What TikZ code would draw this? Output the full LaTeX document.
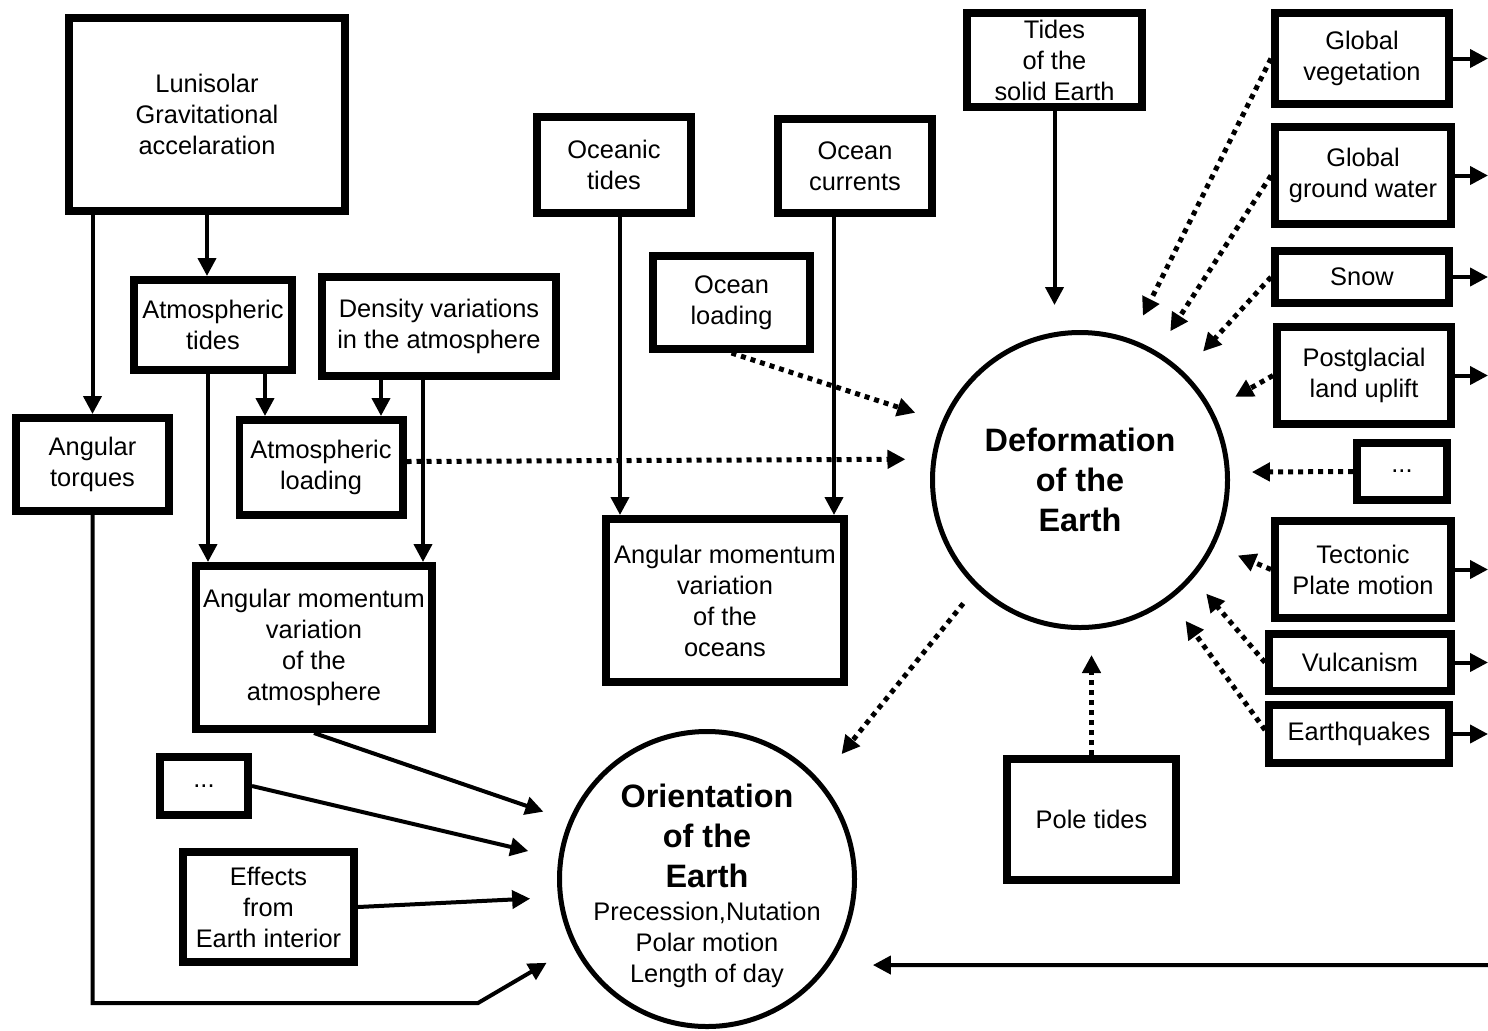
\documentclass[tikz,border=0pt]{standalone}
\usepackage{fontspec}
\setmainfont{Liberation Sans}
\usetikzlibrary{arrows.meta}

\newcommand{\circhead}[1]{{\bfseries\fontsize{16.2}{20}\selectfont #1}}

\begin{document}
\begin{tikzpicture}[x=0.5pt, y=-0.5pt, >={Triangle[length=9pt,width=9pt]},
    every node/.style={font=\fontsize{12.7}{15.5}\selectfont},
    box/.style={draw, line width=3.8pt, inner sep=0pt, align=center},
    circ/.style={draw, circle, line width=2.5pt, inner sep=0pt, minimum size=147.5pt, align=center},
    arr/.style={->, line width=2pt},
    dotarr/.style={->, line width=2.5pt, dash pattern=on 2.5pt off 2.5pt}]
    \useasboundingbox (0,0) rectangle (1488,1030);

    % Atmosphere side
    \node[box, minimum width=138.2pt, minimum height=96.7pt] (lun) at (207,114.5) {Lunisolar\\Gravitational\\accelaration};
    \node[box, minimum width=79.2pt, minimum height=45.2pt] (atide) at (213,325) {Atmospheric\\tides};
    \node[box, minimum width=117pt, minimum height=49.7pt] (dens) at (439,326.5) {Density variations\\in the atmosphere};
    \node[box, minimum width=76.7pt, minimum height=46.7pt] (torq) at (92.5,464.5) {Angular\\torques};
    \node[box, minimum width=81.7pt, minimum height=47.7pt] (aload) at (321,467.5) {Atmospheric\\loading};
    \node[box, minimum width=118.2pt, minimum height=81.7pt] (amvatm) at (314,647.5) {Angular momentum\\variation\\of the\\atmosphere};
    \node[box, minimum width=44.2pt, minimum height=29.2pt] (dotsl) at (204,786) {...};
    \node[box, minimum width=85.7pt, minimum height=55.2pt] (eff) at (268.5,907) {Effects\\from\\Earth interior};

    % Ocean side
    \node[box, minimum width=77.2pt, minimum height=48.2pt] (otide) at (614,165) {Oceanic\\tides};
    \node[box, minimum width=77.2pt, minimum height=47.2pt] (ocur) at (855,166) {Ocean\\currents};
    \node[box, minimum width=78.7pt, minimum height=46.7pt] (oload) at (731.5,302.5) {Ocean\\loading};
    \node[box, minimum width=119.2pt, minimum height=81.7pt] (amvoce) at (725,600.5) {Angular momentum\\variation\\of the\\oceans};

    % Solid Earth side
    \node[box, minimum width=87.7pt, minimum height=47.2pt] (tsolid) at (1054.5,60) {Tides\\of the\\solid Earth};
    \node[box, minimum width=87.2pt, minimum height=45.7pt] (veg) at (1362,58.5) {Global\\vegetation};
    \node[box, minimum width=88.2pt, minimum height=48.7pt] (gw) at (1363,175.5) {Global\\ground water};
    \node[box, minimum width=87.2pt, minimum height=26.2pt] (snow) at (1362,277) {Snow};
    \node[box, minimum width=87.2pt, minimum height=48.7pt] (postg) at (1364,375.5) {Postglacial\\land uplift};
    \node[box, minimum width=45.2pt, minimum height=28.7pt] (dotsr) at (1402,471.5) {...};
    \node[box, minimum width=88.2pt, minimum height=48.7pt] (tect) at (1363,569.5) {Tectonic\\Plate motion};
    \node[box, minimum width=91.2pt, minimum height=28.7pt] (vulc) at (1360,662.5) {Vulcanism};
    \node[box, minimum width=90.2pt, minimum height=29.2pt] (quake) at (1359,734) {Earthquakes};
    \node[box, minimum width=84.7pt, minimum height=60.7pt] (pole) at (1091.5,819.5) {Pole tides};

    % Circles
    \node[circ, font=\bfseries\fontsize{16.2}{20}\selectfont] (def) at (1080,480) {Deformation\\of the\\Earth};
    \node[circ] (orient) at (707,879) {};
    \node[align=center, inner sep=0pt] (orienttxt) at ([yshift=-3.5pt]orient.center) {\circhead{Orientation}\\[4.5pt]\circhead{of the}\\[4.5pt]\circhead{Earth}\\[1pt]Precession,Nutation\\Polar motion\\Length of day};

    % Atmosphere arrows
    \coordinate (atl) at ([xshift=26pt]atide.south);
    \coordinate (atm) at ([xshift=-2.5pt]atide.south);
    \coordinate (dnl) at ([xshift=-29pt]dens.south);
    \coordinate (dnm) at ([xshift=-8pt]dens.south);
    \draw[arr] (torq.north |- lun.south) -- (torq.north);
    \draw[arr] (lun.south) -- (lun.south |- atide.north);
    \draw[arr] (atl) -- (atl |- aload.north);
    \draw[arr] (atm) -- (atm |- amvatm.north);
    \draw[arr] (dnl) -- (dnl |- aload.north);
    \draw[arr] (dnm) -- (dnm |- amvatm.north);

    % Ocean arrows
    \coordinate (otd) at ([xshift=3pt]otide.south);
    \coordinate (ocd) at ([xshift=-10.5pt]ocur.south);
    \draw[arr] (otd) -- (otd |- amvoce.north);
    \draw[arr] (ocd) -- (ocd |- amvoce.north);

    % Into the orientation
    \coordinate (tbend) at (478,1003);
    \coordinate (inR) at (1488,965);
    \draw[arr, shorten >=13.5pt] (amvatm.south) -- (orient.157.8);
    \draw[arr, shorten >=15.5pt] (dotsl.east) -- (orient.172.4);
    \draw[arr, shorten >=14pt] (eff.east) -- (orient.-173.2);
    \draw[arr, shorten >=15.5pt] (torq.south) |- (tbend) -- (orient.-153.4);
    \draw[arr, shorten >=21.5pt] (inR) -- (orient.-35);

    % Tides of the solid Earth
    \draw[arr, shorten >=12.5pt] (tsolid.south) -- (tsolid.south |- def.north);

    % Outgoing on the right
    \coordinate (rim) at (1488,0);
    \draw[arr] (veg.east) -- (veg.east -| rim);
    \draw[arr] (gw.east) -- (gw.east -| rim);
    \draw[arr] (snow.east) -- (snow.east -| rim);
    \draw[arr] (postg.east) -- (postg.east -| rim);
    \draw[arr] (tect.east) -- (tect.east -| rim);
    \draw[arr] (vulc.east) -- (vulc.east -| rim);
    \draw[arr] (quake.east) -- (quake.east -| rim);

    % Dotted into the deformation
    \draw[dotarr, shorten >=14pt] (oload.south) -- (def.157.6);
    \draw[dotarr, shorten >=13pt] ([yshift=3pt]aload.east) -- (def.172.8);
    \draw[dotarr, shorten >=13pt] (veg.west) -- (def.70.8);
    \draw[dotarr, shorten >=12pt] (gw.west) -- (def.59.6);
    \draw[dotarr, shorten >=14pt] (snow.west) -- (def.46.8);
    \draw[dotarr, shorten >=13pt] (postg.west) -- (def.28.2);
    \draw[dotarr, shorten >=11pt] (dotsr.west) -- (def.3.2);
    \draw[dotarr, shorten >=12.5pt] (tect.west) -- (def.-26.1);
    \draw[dotarr, shorten >=10pt] (vulc.west) -- (def.-41.7);
    \draw[dotarr, shorten >=13pt] ([yshift=2pt]quake.west) -- (def.-53.5);
    \draw[dotarr, shorten >=12.5pt] (pole.north) -- (pole.north |- def.south);
    \draw[dotarr, shorten <=10pt, shorten >=17pt] (def.-134.1) -- (orient.41);
\end{tikzpicture}
\end{document}
